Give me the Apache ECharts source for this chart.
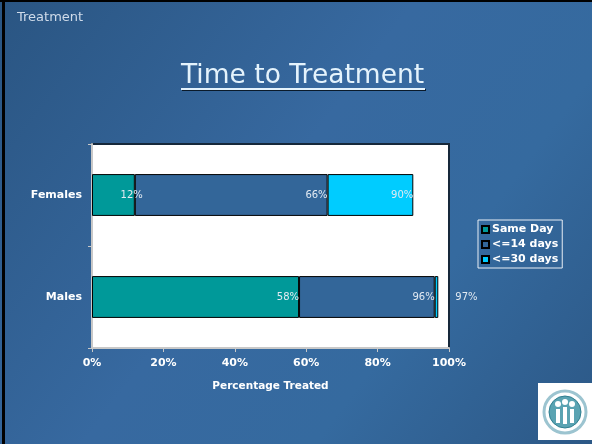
<!DOCTYPE html>
<html><head><meta charset="utf-8">
<script src="https://cdn.jsdelivr.net/npm/echarts@6/dist/echarts.min.js"></script>
<style>html,body{margin:0;padding:0;background:#336699}#c{width:592px;height:444px}</style>
</head><body><div id="c"></div>
<script>
var categories = ['Females', 'Males'];
var seriesNames = ['Same Day', '<=14 days', '<=30 days'];
var sameDay = [12, 58];
var upTo14 = [54, 38];
var upTo30 = [24, 1];
var xTickLabels = ['0%', '20%', '40%', '60%', '80%', '100%'];

var chart = echarts.init(document.getElementById('c'), null, {renderer: 'canvas'});
var FONT = 'DejaVu Sans';
var stacks = [sameDay, upTo14, upTo30];
function cum(si, di) { var s = 0; for (var k = 0; k <= si; k++) s += stacks[k][di]; return s; }
var colors = ['#009999', '#336699', '#00CCFF'];
var series = stacks.map(function (arr, si) {
  return {
    name: seriesNames[si], type: 'bar', stack: 'total', barWidth: '41%',
    itemStyle: {color: colors[si], borderColor: '#000', borderWidth: 1},
    label: {show: true, position: 'insideRight', distance: 0, color: '#e2eaf2',
      fontFamily: FONT, fontSize: 10,
      formatter: function (p) { return cum(si, p.dataIndex) + '%'; }},
    data: arr.map(function (v, di) {
      var d = {value: v};
      if (si === 0 && di === 0) d.label = {offset: [8, 0]};
      if (si === 2 && di === 1) d.label = {position: 'right', distance: 17};
      return d;
    })
  };
});

chart.setOption({
  backgroundColor: new echarts.graphic.LinearGradient(0, 0, 1, 1, [
    {offset: 0, color: '#2a5582'}, {offset: 0.45, color: '#3769a0'}, {offset: 0.7, color: '#356a9f'}, {offset: 1, color: '#2c5886'}
  ]),
  animation: false,
  title: {text: 'Time to Treatment', left: 176, top: 58,
    textStyle: {fontFamily: FONT, fontSize: 26.5, fontWeight: 'normal', color: '#e4f3fc',
      textShadowColor: '#0a1a2a', textShadowOffsetX: 1, textShadowOffsetY: 1, textShadowBlur: 0}},
  grid: {left: 92, right: 143, top: 144, bottom: 96, show: true, backgroundColor: '#ffffff',
    borderColor: '#16283a', borderWidth: 2},
  legend: {left: 478, top: 220, orient: 'vertical', itemWidth: 7, itemHeight: 7, itemGap: 4,
    borderColor: '#e8eef5', borderWidth: 1, padding: [4, 4, 3, 3],
    textStyle: {color: '#ffffff', fontFamily: FONT, fontWeight: 'bold', fontSize: 11, padding: [0, 0, 0, -2]},
    data: seriesNames.map(function (n) { return {name: n, icon: 'rect'}; })},
  xAxis: {type: 'value', min: 0, max: 100, interval: 20,
    axisLine: {show: true, lineStyle: {color: '#c8c8c8', width: 2}},
    axisTick: {show: true, length: 4, lineStyle: {color: '#c8c8c8'}},
    splitLine: {show: false},
    axisLabel: {color: '#ffffff', fontFamily: FONT, fontWeight: 'bold', fontSize: 11, margin: 10,
      formatter: function (v) { return xTickLabels[Math.round(v / 20)]; }},
    name: 'Percentage Treated', nameLocation: 'middle', nameGap: 33,
    nameTextStyle: {color: '#ffffff', fontFamily: FONT, fontWeight: 'bold', fontSize: 10.5}},
  yAxis: {type: 'category', data: categories, inverse: true,
    axisLine: {show: true, lineStyle: {color: '#c8c8c8', width: 2}},
    axisTick: {show: true, length: 4, lineStyle: {color: '#c8c8c8'}},
    axisLabel: {color: '#ffffff', fontFamily: FONT, fontWeight: 'bold', fontSize: 11, margin: 10}},
  graphic: [
    {type: 'rect', shape: {x: 0, y: 0, width: 592, height: 2}, style: {fill: '#000'}, z: 100},
    {type: 'rect', shape: {x: 2, y: 0, width: 3, height: 444}, style: {fill: '#000'}, z: 100},
    {type: 'text', left: 17, top: 11, style: {text: 'Treatment', fill: '#d0dcea', font: '13px "DejaVu Sans"'}},
    {type: 'rect', shape: {x: 181, y: 88, width: 244, height: 2}, style: {fill: '#e4f3fc', shadowColor: '#0a1a2a', shadowOffsetX: 1, shadowOffsetY: 1}},
    {type: 'group', left: 538, top: 383, children: [
      {type: 'rect', shape: {x: 0, y: 0, width: 54, height: 57}, style: {fill: '#ffffff'}},
      {type: 'circle', shape: {cx: 27, cy: 29, r: 21}, style: {fill: 'none', stroke: '#9cc4d0', lineWidth: 3}},
      {type: 'circle', shape: {cx: 27, cy: 29, r: 16}, style: {fill: '#5aa3b2', stroke: '#2f7f90', lineWidth: 1}},
      {type: 'circle', shape: {cx: 20, cy: 21, r: 3}, style: {fill: '#ffffff'}},
      {type: 'circle', shape: {cx: 27, cy: 19, r: 3}, style: {fill: '#ffffff'}},
      {type: 'circle', shape: {cx: 34, cy: 21, r: 3}, style: {fill: '#ffffff'}},
      {type: 'rect', shape: {x: 18, y: 26, width: 4, height: 14}, style: {fill: '#ffffff'}},
      {type: 'rect', shape: {x: 25, y: 24, width: 4, height: 17}, style: {fill: '#ffffff'}},
      {type: 'rect', shape: {x: 32, y: 26, width: 4, height: 14}, style: {fill: '#ffffff'}}
    ]}
  ],
  series: series
});
</script></body></html>
